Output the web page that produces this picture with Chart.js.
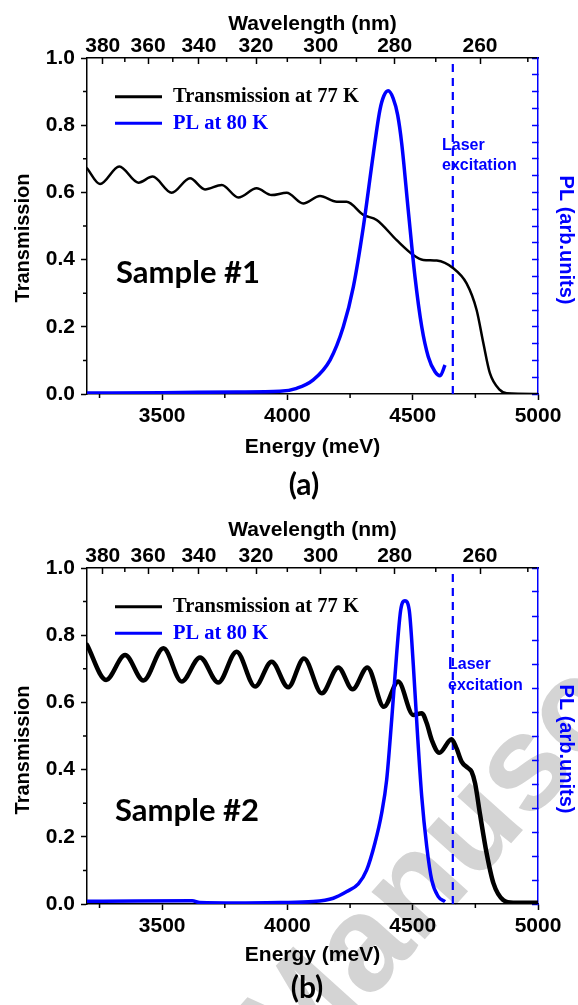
<!DOCTYPE html>
<html lang="en">
<head>
<meta charset="UTF-8">
<title>Transmission and PL spectra</title>
<script src="https://cdn.jsdelivr.net/npm/chart.js@4"></script>
<style>
    html, body { margin: 0; padding: 0; background: #fff; overflow: hidden; }
    .panel { position: absolute; left: 0; width: 578px; }
    #panelA { top: 0; height: 509px; }
    #panelB { top: 509px; height: 496px; }
</style>
</head>
<body>
<div class="panel" id="panelA"><canvas id="chartA" width="578" height="509"></canvas></div>
<div class="panel" id="panelB"><canvas id="chartB" width="578" height="496"></canvas></div>
<script>
// axes
const energyTicks = [3500, 4000, 4500, 5000];
const energyMinor = [3250, 3750, 4250, 4750];
const wavelengthTicks = [380, 360, 340, 320, 300, 280, 260];
const wavelengthMinor = [370, 350, 330, 310, 290, 270, 250];
const transMinor = [0.1, 0.3, 0.5, 0.7, 0.9];
const laserEnergy = 4660; // 266 nm

// Sample #1 : transmission at 77 K
const transEnergyA = [3200, 3252, 3329, 3405, 3462, 3538, 3611, 3671, 3738, 3804, 3877, 3937, 3997, 4063, 4130, 4197, 4236, 4303, 4356, 4436, 4502, 4542, 4596, 4662, 4715, 4755, 4782, 4808, 4848, 4875, 5000];
const transA = [0.672, 0.625, 0.677, 0.629, 0.647, 0.599, 0.642, 0.609, 0.622, 0.585, 0.612, 0.592, 0.599, 0.567, 0.589, 0.572, 0.572, 0.533, 0.518, 0.458, 0.414, 0.399, 0.397, 0.374, 0.329, 0.25, 0.151, 0.062, 0.012, 0.002, 0.0];
// Sample #1 : PL at 80 K (arb. units)
const plEnergyA = [3200, 3500, 3800, 3970, 4037, 4103, 4170, 4223, 4263, 4303, 4343, 4369, 4385, 4402, 4422, 4440, 4456, 4482, 4509, 4536, 4562, 4589, 4609, 4629];
const plA = [0.06, 0.08, 0.12, 0.16, 0.34, 0.84, 2.02, 4.0, 6.38, 9.96, 14.32, 16.9, 17.75, 18.05, 17.6, 16.6, 14.92, 10.96, 6.98, 4.0, 2.22, 1.32, 1.08, 1.72];

// Sample #2 : transmission at 77 K
const transEnergyB = [3200, 3276, 3352, 3425, 3505, 3578, 3651, 3724, 3797, 3871, 3937, 4003, 4066, 4137, 4203, 4260, 4319, 4385, 4442, 4502, 4536, 4556, 4576, 4606, 4655, 4675, 4695, 4722, 4735, 4749, 4768, 4795, 4822, 4861, 4901, 5000];
const transB = [0.771, 0.667, 0.741, 0.665, 0.761, 0.662, 0.734, 0.659, 0.751, 0.647, 0.721, 0.645, 0.731, 0.627, 0.704, 0.639, 0.704, 0.587, 0.662, 0.5625, 0.568, 0.538, 0.488, 0.45, 0.49, 0.463, 0.424, 0.404, 0.394, 0.359, 0.27, 0.151, 0.062, 0.012, 0.004, 0.004];
// Sample #2 : PL at 80 K (arb. units)
const plEnergyB = [3200, 3400, 3620, 3650, 3800, 3970, 4103, 4183, 4237, 4283, 4316, 4349, 4376, 4396, 4416, 4436, 4452, 4469, 4486, 4502, 4518, 4536, 4556, 4576, 4602, 4629];
const plB = [0.11, 0.13, 0.14, 0.06, 0.04, 0.06, 0.1, 0.24, 0.52, 0.84, 1.41, 2.53, 3.78, 5.17, 7.67, 10.44, 12.25, 12.64, 12.25, 10.02, 7.25, 4.47, 2.39, 0.99, 0.31, 0.1];

const HC = 1239841.98; // meV * nm
const BLUE = '#0000ff';
const SANS = '"Liberation Sans", Arial, sans-serif';
const SERIF = '"Liberation Serif", "Times New Roman", serif';
const CALIBRI = 'Lato, "Open Sans", sans-serif';

const zip = (xs, ys) => xs.map((x, i) => ({ x, y: ys[i] }));

function text(ctx, str, x, y, font, color, align, rot) {
    ctx.save();
    ctx.translate(x, y);
    if (rot) ctx.rotate(rot);
    ctx.font = font;
    ctx.fillStyle = color;
    ctx.textAlign = align || 'center';
    ctx.textBaseline = 'middle';
    ctx.fillText(str, 0, 0);
    ctx.restore();
}

function drawWatermark(ctx) {
    const fs = 135;
    ctx.save();
    ctx.font = 'bold ' + fs + 'px ' + SANS;
    ctx.fillStyle = '#d4d4d4';
    const str = 'Accepted Manuscript';
    const px = ctx.measureText('Accepted Ma').width + ctx.measureText('n').width / 2;
    const py = -0.26 * fs;
    const ang = -48 * Math.PI / 180;
    const cx = 420, cy = 892 - 509;
    const ox = cx - (px * Math.cos(ang) - py * Math.sin(ang));
    const oy = cy - (px * Math.sin(ang) + py * Math.cos(ang));
    ctx.translate(ox, oy);
    ctx.rotate(ang);
    ctx.textBaseline = 'alphabetic';
    ctx.fillText(str, 0, 0);
    ctx.restore();
}

const minorTicks = {
    id: 'minorTicks',
    afterDraw(chart) {
        const { ctx, chartArea: a, scales } = chart;
        ctx.save();
        ctx.strokeStyle = '#000';
        ctx.lineWidth = 1.5;
        ctx.beginPath();
        energyMinor.forEach(e => {
            const x = scales.x.getPixelForValue(e);
            ctx.moveTo(x, a.bottom); ctx.lineTo(x, a.bottom + 4);
        });
        wavelengthMinor.forEach(nm => {
            const x = scales.x2.getPixelForValue(HC / nm);
            ctx.moveTo(x, a.top); ctx.lineTo(x, a.top + 4);
        });
        transMinor.forEach(t => {
            const y = scales.y.getPixelForValue(t);
            ctx.moveTo(a.left, y); ctx.lineTo(a.left - 4, y);
        });
        ctx.stroke();
        ctx.restore();
    }
};

function makeChart(L) {
    const tickFont = { family: SANS, size: 21, weight: 'bold' };
    const titleFont = 'bold 21px ' + SANS;

    const labels = {
        id: 'labels',
        beforeDraw(chart) {
            if (L.watermark) drawWatermark(chart.ctx);
        },
        afterDraw(chart) {
            const { ctx, chartArea: a } = chart;
            const cx = (a.left + a.right) / 2;
            text(ctx, 'Wavelength (nm)', cx, L.wavelengthY, titleFont, '#000');
            text(ctx, 'Energy (meV)', cx, L.energyY, titleFont, '#000');
            text(ctx, 'Transmission', 23.5, L.leftTitleY, 'bold 20px ' + SANS, '#000', 'center', -Math.PI / 2);
            text(ctx, 'PL (arb.units)', 566, L.rightTitleY, 'bold 20px ' + SANS, BLUE, 'center', Math.PI / 2);
            text(ctx, L.tag, L.tagXY[0], L.tagXY[1], 'bold 30px ' + CALIBRI, '#000');
            text(ctx, L.sample, L.sampleXY[0], L.sampleXY[1], 'bold 31px ' + CALIBRI, '#000');
            text(ctx, 'Laser', L.laser[0], L.laser[1], 'bold 16px ' + SANS, BLUE, 'left');
            text(ctx, 'excitation', L.laser[0], L.laser[2], 'bold 16px ' + SANS, BLUE, 'left');

            // legend, in dataset order
            const entries = chart.data.datasets.filter(d => d.inLegend);
            entries.forEach((d, i) => {
                const y = L.legendY[i];
                ctx.save();
                ctx.strokeStyle = d.borderColor;
                ctx.lineWidth = 3;
                ctx.beginPath();
                ctx.moveTo(115, y); ctx.lineTo(162, y);
                ctx.stroke();
                ctx.restore();
                text(ctx, d.label, 173, y, 'bold 20.5px ' + SERIF, d.borderColor, 'left');
            });
        }
    };

    return new Chart(document.getElementById(L.canvas), {
        type: 'line',
        data: {
            datasets: [
                {
                    label: 'Transmission at 77 K', inLegend: true, order: 1,
                    data: zip(L.transEnergy, L.trans), yAxisID: 'y',
                    borderColor: '#000', borderWidth: L.trWidth, pointRadius: 0,
                    cubicInterpolationMode: 'monotone', fill: false,
                    borderCapStyle: 'round', borderJoinStyle: 'round'
                },
                {
                    label: 'PL at 80 K', inLegend: true, order: 0,
                    data: zip(L.plEnergy, L.pl), yAxisID: 'y2',
                    borderColor: BLUE, borderWidth: 3.5, pointRadius: 0,
                    cubicInterpolationMode: 'monotone', fill: false
                },
                {
                    label: 'Laser excitation', order: 2,
                    data: [{ x: laserEnergy, y: 0 }, { x: laserEnergy, y: 1 }], yAxisID: 'y',
                    borderColor: BLUE, borderWidth: 2.2, borderDash: [8, 6], pointRadius: 0
                }
            ]
        },
        options: {
            responsive: false,
            animation: false,
            layout: { padding: 0 },
            plugins: { legend: { display: false }, tooltip: { enabled: false } },
            scales: {
                x: {
                    type: 'linear', position: 'bottom', min: 3200, max: 5000,
                    afterBuildTicks: s => { s.ticks = energyTicks.map(v => ({ value: v })); },
                    ticks: { font: tickFont, color: '#000', padding: 4, maxRotation: 0, autoSkip: false, callback: v => String(v) },
                    grid: { drawOnChartArea: false, tickLength: 6, tickColor: '#000', tickWidth: 1.5 },
                    border: { color: '#000', width: 1.5 },
                    afterFit: s => { s.height = L.bottomH; }
                },
                x2: {
                    type: 'linear', position: 'top', min: 3200, max: 5000,
                    afterBuildTicks: s => { s.ticks = wavelengthTicks.map(nm => ({ value: HC / nm })); },
                    ticks: { font: tickFont, color: '#000', padding: 5, maxRotation: 0, autoSkip: false, callback: (v, i) => String(wavelengthTicks[i]) },
                    grid: { drawOnChartArea: false, tickLength: -6, tickColor: '#000', tickWidth: 1.5 },
                    border: { color: '#000', width: 1.5 },
                    afterFit: s => { s.height = L.topH; }
                },
                y: {
                    position: 'left', min: 0, max: 1,
                    ticks: { stepSize: 0.2, font: tickFont, color: '#000', padding: 6, callback: v => v.toFixed(1) },
                    grid: { drawOnChartArea: false, tickLength: 6, tickColor: '#000', tickWidth: 1.5 },
                    border: { color: '#000', width: 1.5 },
                    afterFit: s => { s.width = 87; }
                },
                y2: {
                    position: 'right', min: 0, max: L.plMax,
                    ticks: { display: false, stepSize: 1 },
                    grid: { drawOnChartArea: false, tickLength: -6, tickColor: BLUE, tickWidth: 1.5 },
                    border: { color: BLUE, width: 1.5 },
                    afterFit: s => { s.width = 40; }
                }
            }
        },
        plugins: [minorTicks, labels]
    });
}

makeChart({
    canvas: 'chartA', topH: 58, bottomH: 115, plMax: 20, trWidth: 2.5,
    transEnergy: transEnergyA, trans: transA, plEnergy: plEnergyA, pl: plA,
    sample: 'Sample #1', sampleXY: [188, 273], tag: '(a)', tagXY: [304, 485],
    wavelengthY: 24, energyY: 447, leftTitleY: 238, rightTitleY: 240,
    legendY: [96.7, 123.3], laser: [442, 146, 166]
});

makeChart({
    canvas: 'chartB', topH: 59, bottomH: 101, plMax: 14, trWidth: 4.5,
    transEnergy: transEnergyB, trans: transB, plEnergy: plEnergyB, pl: plB,
    sample: 'Sample #2', sampleXY: [187, 302], tag: '(b)', tagXY: [307, 479],
    wavelengthY: 21, energyY: 446, leftTitleY: 241, rightTitleY: 240,
    legendY: [97.7, 124.3], laser: [448, 156, 177], watermark: true
});
</script>
</body>
</html>
